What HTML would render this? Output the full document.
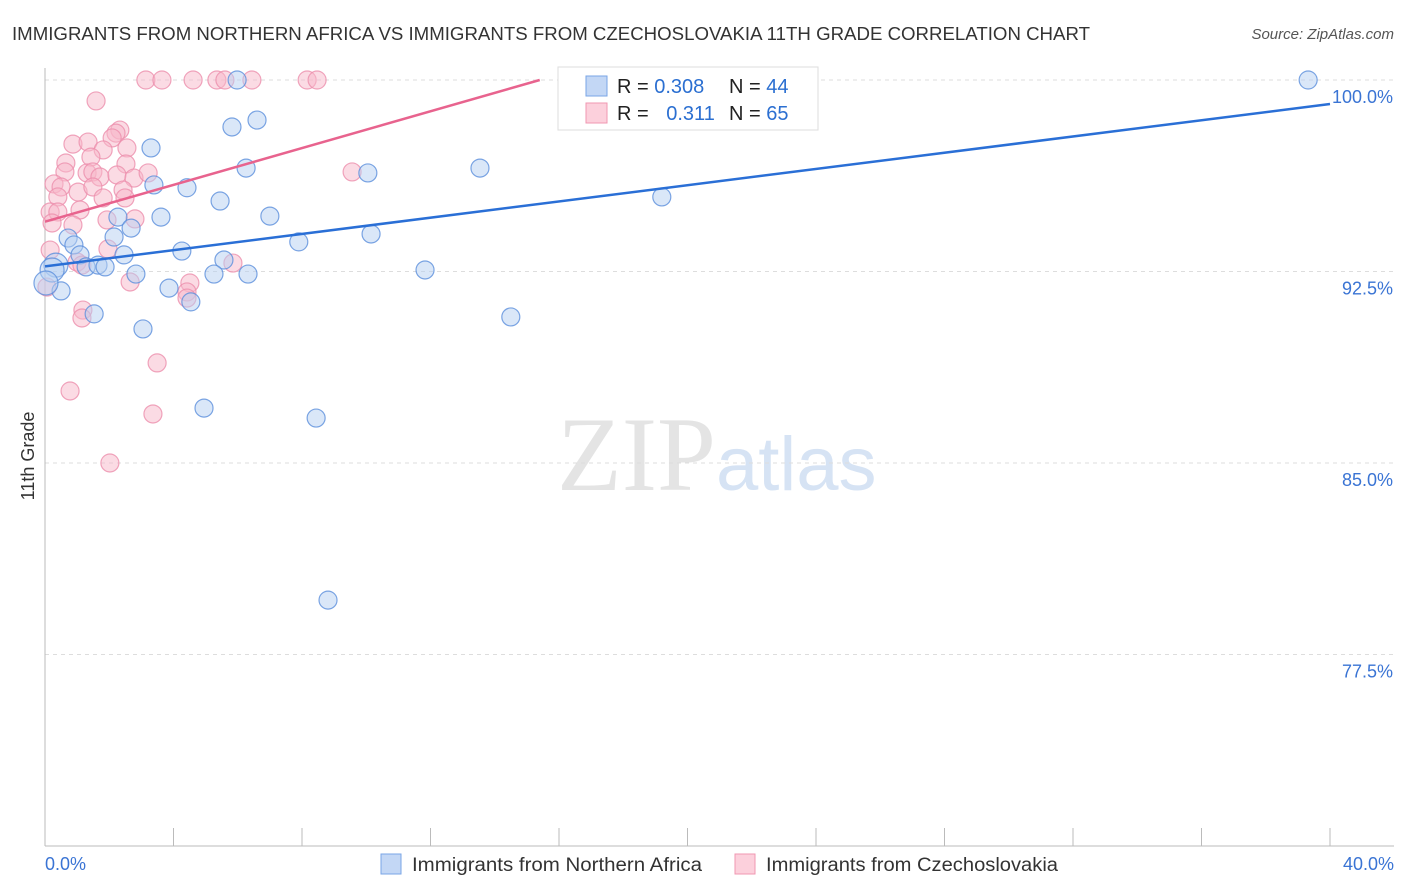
<!DOCTYPE html>
<html><head><meta charset="utf-8">
<style>
body{margin:0;background:#fff;font-family:"Liberation Sans",sans-serif;}
#wrap{position:relative;width:1406px;height:892px;overflow:hidden;}
</style></head>
<body>
<div id="wrap">
<svg id="chart" width="1406" height="892" xmlns="http://www.w3.org/2000/svg">
<text x="12" y="40" font-size="18" fill="#333" textLength="1078" lengthAdjust="spacingAndGlyphs">IMMIGRANTS FROM NORTHERN AFRICA VS IMMIGRANTS FROM CZECHOSLOVAKIA 11TH GRADE CORRELATION CHART</text>
<text x="1394" y="39" font-size="15" fill="#555" font-style="italic" text-anchor="end">Source: ZipAtlas.com</text>
<text x="716" y="490" font-size="106" fill="#e4e4e4" text-anchor="end" font-family="Liberation Serif, serif">ZIP</text>
<text x="716" y="490" font-size="76" fill="#d6e3f4">atlas</text>
<g id="grid"></g>
<g id="axes"></g>
<g id="pts"></g>
<g id="lines"></g>
<text transform="translate(34,456) rotate(-90)" font-size="18" fill="#333" text-anchor="middle">11th Grade</text>
<g>
<rect x="558" y="67" width="260" height="63" fill="#fff" stroke="#ddd"/>
<rect x="586" y="76" width="21" height="20" fill="#c3d7f5" stroke="#7aa5e6"/>
<rect x="586" y="103" width="21" height="20" fill="#fcd0dc" stroke="#f097b2"/>
<text x="617" y="93" font-size="20" fill="#222">R = <tspan fill="#2b6fd1">0.308</tspan></text>
<text x="729" y="93" font-size="20" fill="#222">N = <tspan fill="#2b6fd1">44</tspan></text>
<text x="617" y="120" font-size="20" fill="#222">R = <tspan fill="#2b6fd1" dx="12">0.311</tspan></text>
<text x="729" y="120" font-size="20" fill="#222">N = <tspan fill="#2b6fd1">65</tspan></text>
</g>
<g>
<rect x="381" y="854" width="20" height="20" fill="#c3d7f5" stroke="#7aa5e6"/>
<text x="412" y="871" font-size="19" fill="#333" textLength="290" lengthAdjust="spacingAndGlyphs">Immigrants from Northern Africa</text>
</g>
<g>
<rect x="735" y="854" width="20" height="20" fill="#fcd0dc" stroke="#f097b2"/>
<text x="766" y="871" font-size="19" fill="#333" textLength="292" lengthAdjust="spacingAndGlyphs">Immigrants from Czechoslovakia</text>
</g>
</svg>
</div>
<script>
const yTicks=[100,92.5,85,77.5];
const yTickLabels=["100.0%","92.5%","85.0%","77.5%"];
const xEndLabels=["0.0%","40.0%"];
const blueX=[5.98,39.32,5.82,6.6,3.3,3.39,4.42,6.26,10.05,13.54,19.2,5.45,3.61,2.27,7.0,2.68,2.15,0.72,0.9,1.09,2.46,4.26,7.9,10.15,0.34,0.22,1.28,1.65,1.87,5.57,5.26,6.32,2.83,11.83,0.5,3.86,4.54,1.53,14.5,3.05,4.95,8.44,8.81,0.03];
const blueY=[100,100,98.16,98.43,97.34,95.89,95.78,96.55,96.36,96.55,95.42,95.26,94.63,94.63,94.67,94.2,93.85,93.81,93.54,93.15,93.15,93.3,93.66,93.97,92.75,92.56,92.68,92.75,92.68,92.95,92.4,92.4,92.4,92.56,91.74,91.85,91.31,90.84,90.72,90.25,87.15,86.76,79.63,92.05];
const pinkX=[3.14,3.64,4.61,5.35,5.6,6.44,8.16,8.47,18.18,1.59,0.87,1.34,2.33,2.21,2.09,2.55,1.81,1.43,2.52,0.65,0.62,1.31,1.49,1.71,2.24,2.77,3.21,0.28,0.5,1.03,1.49,2.43,0.4,2.49,1.81,0.16,0.4,1.09,0.22,0.87,1.93,2.8,0.16,1.96,1.0,1.15,5.85,2.65,4.51,4.42,4.42,1.18,1.15,3.49,0.78,3.36,2.02,0.06,9.56];
const pinkY=[100,100,100,100,100,100,100,100,100,99.18,97.49,97.57,98.04,97.92,97.73,97.34,97.26,96.98,96.71,96.75,96.4,96.36,96.4,96.2,96.28,96.16,96.36,95.93,95.81,95.61,95.81,95.69,95.42,95.38,95.38,94.83,94.83,94.91,94.4,94.32,94.52,94.56,93.34,93.38,92.87,92.75,92.83,92.09,92.05,91.7,91.46,90.99,90.68,88.92,87.82,86.92,85.0,91.89,96.4];
const blueTrend=[0,92.7,40,99.06];
const pinkTrend=[0,94.45,15.4,100];
const NS="http://www.w3.org/2000/svg";
const X0=45,X1=1330,Y100=80,PXPER=25.533;
function sx(v){return X0+(X1-X0)*v/40;}
function sy(v){return Y100+(100-v)*PXPER;}
function mk(t,a,p){const e=document.createElementNS(NS,t);for(const k in a)e.setAttribute(k,a[k]);p.appendChild(e);return e;}
const grid=document.getElementById('grid'),axes=document.getElementById('axes'),pts=document.getElementById('pts'),lines=document.getElementById('lines');
yTicks.forEach((t,i)=>{
 const l=mk('line',{x1:X0,x2:1394,y1:sy(t),y2:sy(t),stroke:'#ddd','stroke-dasharray':'4,4'},grid);
 
 
 const tx=mk('text',{x:1393,y:sy(t)+23,'font-size':18,fill:'#3a74d4','text-anchor':'end'},grid);
 tx.textContent=yTickLabels[i];
 
 
});
const ax=mk('line',{x1:X0,x2:X0,y1:68,y2:846,stroke:'#bbb'},axes);


const bx=mk('line',{x1:X0,x2:1394,y1:846,y2:846,stroke:'#bbb'},axes);


for(let i=0;i<=10;i++){
 const tk=mk('line',{x1:sx(i*4),x2:sx(i*4),y1:828,y2:846,stroke:'#bbb'},axes);
 
 
}
[[0,'start',45],[40,'end',1394]].forEach((d,i)=>{
 const t=mk('text',{x:d[2],y:870,'font-size':18,fill:'#3a74d4','text-anchor':d[1]},axes);
 t.textContent=xEndLabels[i];
 
 
});
function dots(xs,ys,fill,stroke,name){
 xs.forEach((x,i)=>{
  const big=(x<0.4&&name==='blue-point');
  const c=mk('circle',{cx:sx(x),cy:sy(ys[i]),r:big?12:9,fill:fill,'fill-opacity':0.5,stroke:stroke,'stroke-opacity':0.8,'stroke-width':1.2},pts);
  
  
 });
}
dots(pinkX,pinkY,'#f8b8ca','#ec8fac','pink-point');
dots(blueX,blueY,'#b5cff2','#5b8fdc','blue-point');
const bl=mk('line',{x1:sx(blueTrend[0]),y1:sy(blueTrend[1]),x2:sx(blueTrend[2]),y2:sy(blueTrend[3]),stroke:'#2a6fd6','stroke-width':2.5},lines);


const pl=mk('line',{x1:sx(pinkTrend[0]),y1:sy(pinkTrend[1]),x2:sx(pinkTrend[2]),y2:sy(pinkTrend[3]),stroke:'#e8638e','stroke-width':2.5},lines);


</script>
</body></html>
